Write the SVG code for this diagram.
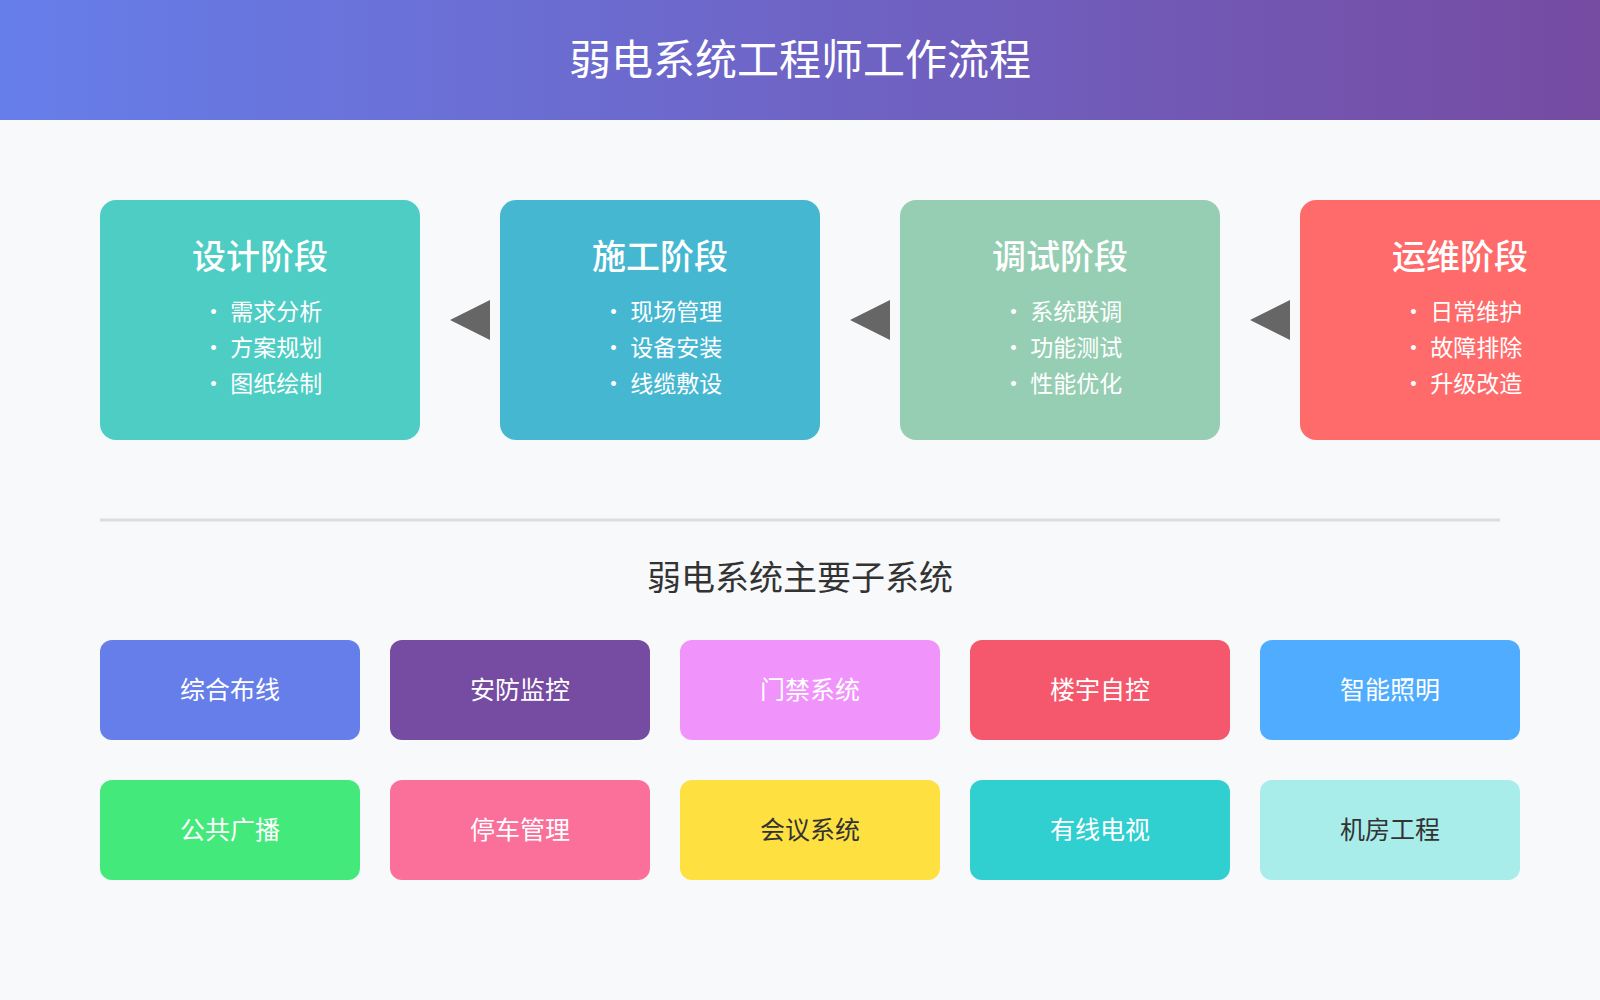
<svg xmlns="http://www.w3.org/2000/svg" width="1600" height="1000" viewBox="0 0 1600 1000">
<defs>
<linearGradient id="hg" x1="0" y1="0" x2="1" y2="0"><stop offset="0" stop-color="#667eea"/><stop offset="1" stop-color="#764ba2"/></linearGradient>
<style>
text{font-family:"Noto Sans CJK SC","Noto Sans",sans-serif}
.ct{font-size:34px;fill:#fff;text-anchor:middle;font-weight:500}
.bl{font-size:23px;fill:#fff}
.st{font-size:25px;fill:#fff;text-anchor:middle}
.dk{fill:#333}
.arr{fill:#666}
</style>
</defs>
<rect width="1600" height="1000" fill="#f8f9fa"/>
<rect width="1600" height="120" fill="url(#hg)"/>
<text x="800" y="75" font-size="42" fill="#fff" text-anchor="middle">弱电系统工程师工作流程</text>

<g id="card1"><rect x="100" y="200" width="320" height="240" rx="16" fill="#4ecdc4"/>
<text class="ct" x="260" y="269">设计阶段</text>
<text class="bl" x="202" y="320">• 需求分析</text><text class="bl" x="202" y="356">• 方案规划</text><text class="bl" x="202" y="392">• 图纸绘制</text></g>
<g id="card2"><rect x="500" y="200" width="320" height="240" rx="16" fill="#45b7d1"/>
<text class="ct" x="660" y="269">施工阶段</text>
<text class="bl" x="602" y="320">• 现场管理</text><text class="bl" x="602" y="356">• 设备安装</text><text class="bl" x="602" y="392">• 线缆敷设</text></g>
<g id="card3"><rect x="900" y="200" width="320" height="240" rx="16" fill="#96ceb4"/>
<text class="ct" x="1060" y="269">调试阶段</text>
<text class="bl" x="1002" y="320">• 系统联调</text><text class="bl" x="1002" y="356">• 功能测试</text><text class="bl" x="1002" y="392">• 性能优化</text></g>
<g id="card4"><rect x="1300" y="200" width="340" height="240" rx="16" fill="#ff6b6b"/>
<text class="ct" x="1460" y="269">运维阶段</text>
<text class="bl" x="1402" y="320">• 日常维护</text><text class="bl" x="1402" y="356">• 故障排除</text><text class="bl" x="1402" y="392">• 升级改造</text></g>

<g id="connectors">
<polygon class="arr" points="450,320 490,300 490,340"/>
<polygon class="arr" points="850,320 890,300 890,340"/>
<polygon class="arr" points="1250,320 1290,300 1290,340"/>
</g>

<line x1="100" y1="520" x2="1500" y2="520" stroke="#ddd" stroke-width="3"/>
<text x="800" y="590" font-size="34" fill="#333" text-anchor="middle">弱电系统主要子系统</text>

<g id="s1"><rect x="100" y="640" width="260" height="100" rx="12" fill="#667eea"/><text class="st" x="230" y="699">综合布线</text></g>
<g id="s2"><rect x="390" y="640" width="260" height="100" rx="12" fill="#764ba2"/><text class="st" x="520" y="699">安防监控</text></g>
<g id="s3"><rect x="680" y="640" width="260" height="100" rx="12" fill="#f093fb"/><text class="st" x="810" y="699">门禁系统</text></g>
<g id="s4"><rect x="970" y="640" width="260" height="100" rx="12" fill="#f5576c"/><text class="st" x="1100" y="699">楼宇自控</text></g>
<g id="s5"><rect x="1260" y="640" width="260" height="100" rx="12" fill="#4facfe"/><text class="st" x="1390" y="699">智能照明</text></g>
<g id="s6"><rect x="100" y="780" width="260" height="100" rx="12" fill="#43e97b"/><text class="st" x="230" y="839">公共广播</text></g>
<g id="s7"><rect x="390" y="780" width="260" height="100" rx="12" fill="#fa709a"/><text class="st" x="520" y="839">停车管理</text></g>
<g id="s8"><rect x="680" y="780" width="260" height="100" rx="12" fill="#fee140"/><text class="st dk" x="810" y="839">会议系统</text></g>
<g id="s9"><rect x="970" y="780" width="260" height="100" rx="12" fill="#30cfd0"/><text class="st" x="1100" y="839">有线电视</text></g>
<g id="s10"><rect x="1260" y="780" width="260" height="100" rx="12" fill="#a8edea"/><text class="st dk" x="1390" y="839">机房工程</text></g>
</svg>
